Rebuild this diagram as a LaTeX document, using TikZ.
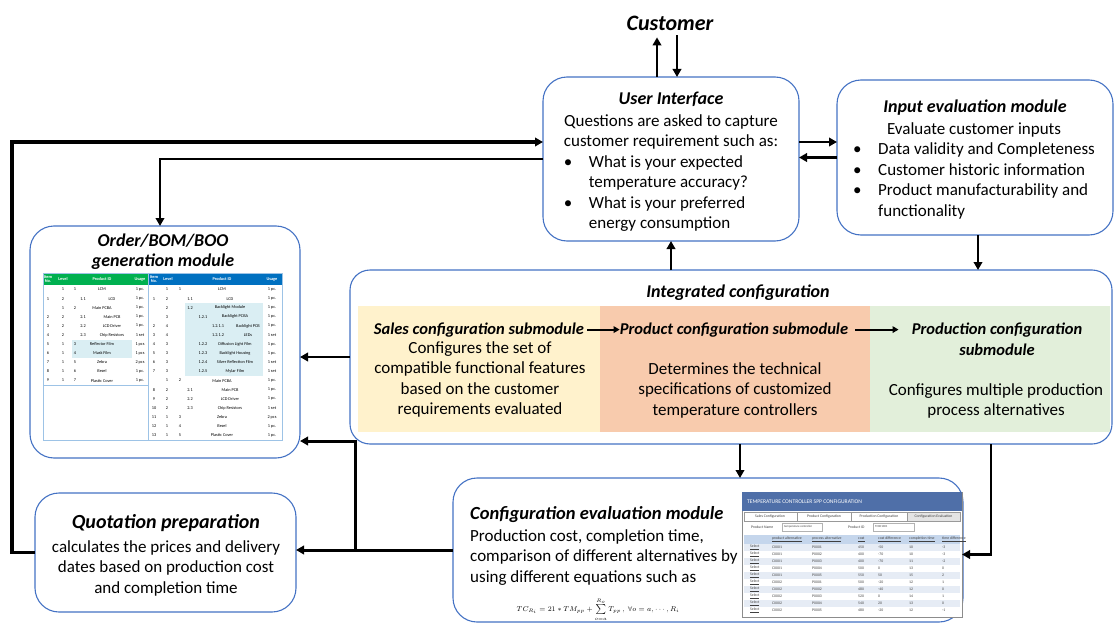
\documentclass[tikz,border=0pt]{standalone}
\usepackage{fontspec}
\setmainfont{Carlito}
\usetikzlibrary{arrows.meta}
\definecolor{boxblue}{HTML}{4472C4}
\definecolor{salesbg}{HTML}{FFF2CC}
\definecolor{prodbg}{HTML}{F8CBAD}
\definecolor{prodnbg}{HTML}{E2EFDA}
\definecolor{bomgreen}{HTML}{00B050}
\definecolor{bomblue}{HTML}{0070C0}
\definecolor{bomhl}{HTML}{DAEEF3}
\definecolor{tblline}{HTML}{9DC3E6}
\definecolor{sshead}{HTML}{4F6FA8}
\definecolor{sshdr}{HTML}{C5D6EC}
\definecolor{ssrow}{HTML}{E6ECF5}
\definecolor{sstab}{HTML}{E4E4E4}
\begin{document}
\begin{tikzpicture}[x=1pt,y=-1pt,
  box/.style={draw=boxblue,line width=1.1pt,fill=white,rounded corners=24pt,inner sep=0pt,outer sep=0pt},
  panel/.style={inner sep=0pt,outer sep=0pt,minimum height=126pt},
  ttl/.style={inner sep=0pt,anchor=base,font=\fontsize{18}{21}\selectfont\bfseries\itshape},
  txt/.style={inner sep=0pt,font=\fontsize{17}{20.5}\selectfont},
  arr/.style={line width=2.6pt,-{Triangle[length=8pt,width=8.5pt]}},
  sarr/.style={line width=2pt,-{Triangle[length=6pt,width=6.5pt]}},
  tb/.style={inner sep=0pt,font=\fontsize{4.3}{4.8}\selectfont},
  tbh/.style={inner sep=0pt,text=white,align=center,font=\fontsize{4.3}{4.4}\selectfont\bfseries},
  sst/.style={inner sep=0pt,font=\fontsize{3.8}{4.2}\selectfont,text=black!75},
]
\useasboundingbox (0,0) rectangle (1114,626);

% ---------------- boxes
\node[box,minimum width=256pt,minimum height=164pt] (ui) at (671,159) {};
\node[box,minimum width=276pt,minimum height=155pt] (inp) at (975,157.5) {};
\node[box,minimum width=270pt,minimum height=232pt] (bom) at (165,342) {};
\node[box,minimum width=762pt,minimum height=174pt,rounded corners=20pt] (integ) at (731,357) {};
\node[box,minimum width=261pt,minimum height=119pt] (quot) at (165.5,552.5) {};
\node[box,minimum width=510pt,minimum height=144pt] (ceval) at (708,550) {};

% ---------------- customer
\node[ttl,font=\fontsize{22}{26}\selectfont\bfseries\itshape] (cust) at (670,31) {Customer};

% ---------------- user interface
\node[ttl] (ui-t) at (671,104) {User Interface};
\node[txt,anchor=north] (ui-b) at (671,111.5) {\begin{tabular}{@{}p{25pt}@{}l@{}}
\multicolumn{2}{@{}c@{}}{Questions are asked to capture}\\
\multicolumn{2}{@{}c@{}}{customer requirement such as:}\\
\textbullet & What is your expected\\
 & temperature accuracy?\\
\textbullet & What is your preferred\\
 & energy consumption
\end{tabular}};

% ---------------- input evaluation
\node[ttl] (inp-t) at (975,113) {Input evaluation module};
\node[txt,anchor=north west] (inp-b) at (853,119.5) {\begin{tabular}{@{}p{25pt}@{}l@{}}
\multicolumn{2}{@{}c@{}}{Evaluate customer inputs}\\
\textbullet & Data validity and Completeness\\
\textbullet & Customer historic information\\
\textbullet & Product manufacturability and\\
 & functionality
\end{tabular}};

% ---------------- integrated configuration
\node[ttl] (integ-t) at (738,297) {Integrated configuration};
\node[panel,fill=salesbg,minimum width=242pt] (sales) at (479,369) {};
\node[panel,fill=prodbg,minimum width=270pt] (prodc) at (735,369) {};
\node[panel,fill=prodnbg,minimum width=240pt] (prodn) at (990,369) {};
\node[ttl,font=\fontsize{16.5}{20}\selectfont\bfseries\itshape] (sales-t) at (479,334) {Sales configuration submodule};
\node[ttl,font=\fontsize{16.5}{20}\selectfont\bfseries\itshape] (prodc-t) at (734,334) {Product configuration submodule};
\node[ttl,font=\fontsize{16.5}{20}\selectfont\bfseries\itshape] (prodn-t) at (997,334) {Production configuration};
\node[ttl,font=\fontsize{16.5}{20}\selectfont\bfseries\itshape] (prodn-t2) at (997,355) {submodule};
\node[txt,anchor=north] (sales-b) at (480,338.5) {\begin{tabular}{@{}c@{}}
Configures the set of\\ compatible functional features\\ based on the customer\\ requirements evaluated\end{tabular}};
\node[txt,anchor=north] (prodc-b) at (735,359.5) {\begin{tabular}{@{}c@{}}
Determines the technical\\ specifications of customized\\ temperature controllers\end{tabular}};
\node[txt,anchor=north] (prodn-b) at (996,380.5) {\begin{tabular}{@{}c@{}}
Configures multiple production\\ process alternatives\end{tabular}};
\draw[sarr,shorten <=3pt] (sales-t.east) -- (prodc-t.west);
\draw[sarr,shorten <=7pt,shorten >=13pt] (prodc-t.east) -- (prodn-t.west);

% ---------------- order / BOM / BOO
\node[ttl] (bom-t) at (163,246) {Order/BOM/BOO};
\node[ttl] (bom-t2) at (163,266) {generation module};
\fill[bomgreen] (43,273) rectangle (148,285);
\fill[bomblue] (148,273) rectangle (282,285);
\fill[bomhl] (72,339.6) rectangle (132,357.8);
\fill[bomhl] (185,303.2) rectangle (263,376);
\draw[tblline,line width=0.6pt] (43,273) rectangle (282,440);
\draw[tblline,line width=0.6pt] (148,273) -- (148,440);
\draw[tblline,line width=0.5pt] (43,385) -- (148,385);
\node[tbh] (hl1) at (48,279) {Item\\No.};
\node[tbh] (hl2) at (63,279) {Level};
\node[tbh] (hl3) at (102,279) {Product ID};
\node[tbh] (hl4) at (140,279) {Usage};
\node[tbh] (hr1) at (154,279) {Item\\No.};
\node[tbh] (hr2) at (168,279) {Level};
\node[tbh] (hr3) at (222,279) {Product ID};
\node[tbh] (hr4) at (272,279) {Usage};
\foreach \ia/\lv/\id/\nm/\us [count=\rr] in {
 {}/1/1/LCM/1 pc.,
 1/2/1.1/LCD/1 pc.,
 {}/1/2/Main PCBA/1 pc.,
 2/2/2.1/Main PCB/1 pc.,
 3/2/2.2/LCD Driver/1 pc.,
 4/2/2.3/Chip Resistors/1 set,
 5/1/3/Reflector Film/1 pcs,
 6/1/4/Mask Film/1 pcs,
 7/1/5/Zebra/2 pcs,
 8/1/6/Bezel/1 pc.,
 9/1/7/Plastic Cover/1 pc.}{
 \pgfmathsetmacro\yy{285+(\rr-0.5)*9.1}
 \pgfmathsetmacro\xid{{75,83}[\lv-1]}
 \pgfmathsetmacro\xnm{{102,112}[\lv-1]}
 \node[tb] (La\rr) at (48,\yy) {\ia};
 \node[tb] (Lb\rr) at (63,\yy) {\lv};
 \node[tb] (Lc\rr) at (\xid,\yy) {\id};
 \node[tb] (Ld\rr) at (\xnm,\yy) {\nm};
 \node[tb] (Le\rr) at (140,\yy) {\us};
}
\foreach \ia/\lv/\id/\nm/\us [count=\rr] in {
 {}/1/1/LCM/1 pc.,
 1/2/1.1/LCD/1 pc.,
 {}/2/1.2/Backlight Module/1 pc.,
 {}/3/1.2.1/Backlight PCBA/1 pc.,
 2/4/1.2.1.1/Backlight PCB/1 pc.,
 3/4/1.2.1.2/LEDs/1 set,
 4/3/1.2.2/Diffusion Light Film/1 pc.,
 5/3/1.2.3/Backlight Housing/1 pc.,
 6/3/1.2.4/Silver Reflection Film/1 set,
 7/3/1.2.5/Mylar Film/1 set,
 {}/1/2/Main PCBA/1 pc.,
 8/2/2.1/Main PCB/1 pc.,
 9/2/2.2/LCD Driver/1 pc.,
 10/2/2.3/Chip Resistors/1 set,
 11/1/3/Zebra/2 pcs,
 12/1/4/Bezel/1 pc.,
 13/1/5/Plastic Cover/1 pc.}{
 \pgfmathsetmacro\yy{285+(\rr-0.5)*9.1}
 \pgfmathsetmacro\xid{{180,190,203,218}[\lv-1]}
 \pgfmathsetmacro\xnm{{222,230,235,248}[\lv-1]}
 \node[tb] (Ra\rr) at (154,\yy) {\ia};
 \node[tb] (Rb\rr) at (167,\yy) {\lv};
 \node[tb] (Rc\rr) at (\xid,\yy) {\id};
 \node[tb] (Rd\rr) at (\xnm,\yy) {\nm};
 \node[tb] (Re\rr) at (272,\yy) {\us};
}

% ---------------- quotation
\node[ttl,font=\fontsize{20}{24}\selectfont\bfseries\itshape] (quot-t) at (166,528) {Quotation preparation};
\node[txt,anchor=north] (quot-b) at (166,537.5) {\begin{tabular}{@{}c@{}}
calculates the prices and delivery\\ dates based on production cost\\ and completion time\end{tabular}};

% ---------------- configuration evaluation
\node[ttl,anchor=base west,font=\fontsize{18.5}{22}\selectfont\bfseries\itshape] (ceval-t) at (470,519) {Configuration evaluation module};
\node[txt,anchor=north west] (ceval-b) at (470,526.5) {\begin{tabular}{@{}l@{}}
Production cost, completion time,\\ comparison of different alternatives by\\ using different equations such as\end{tabular}};
\node[inner sep=0pt,font=\fontsize{7.5}{8.5}\selectfont] (eq) at (598,609.5)
 {$TC_{R_i} = 21 * TM_{pp} + \sum\limits_{o=a}^{R_o} T_{pp}\,,\ \forall o = a,\cdots, R_i$};

% ---------------- screenshot
\node[draw=black!45,line width=0.8pt,fill=white,minimum width=220pt,minimum height=125pt,inner sep=0pt,outer sep=0pt] (shot) at (852,554.5) {};
\fill[sshead] (742,492) rectangle (962,511);
\node[inner sep=0pt,anchor=west,text=white,font=\fontsize{5.6}{6}\selectfont] (shot-h) at (747,501.5) {TEMPERATURE CONTROLLER SPP CONFIGURATION};
\fill[sstab] (907,512) rectangle (960,521);
\draw[black!40,line width=0.4pt] (744,512) rectangle (797,521) (797,512) rectangle (851,521) (851,512) rectangle (907,521) (907,512) rectangle (960,521);
\node[sst] (tab1) at (770,516.5) {Sales Configuration};
\node[sst] (tab2) at (824,516.5) {Product Configuration};
\node[sst] (tab3) at (879,516.5) {Production Configuration};
\node[sst] (tab4) at (933.5,516.5) {Configuration Evaluation};
\node[sst,anchor=west] (pn) at (751,527) {Product Name};
\draw[black!30,line width=0.4pt] (782,523) rectangle (822,531);
\node[sst,anchor=west,font=\fontsize{3}{3.5}\selectfont] (pnv) at (784,527) {temperature controller};
\node[sst,anchor=west] (pid) at (848,527) {Product ID};
\draw[black!30,line width=0.4pt] (873,523) rectangle (914,531);
\node[sst,anchor=west,font=\fontsize{3}{3.5}\selectfont] (pidv) at (875,527) {TC001001};
\fill[sshdr] (744,535) rectangle (960,544);
\foreach \rr in {1,3,5,7,9} \fill[ssrow] (744,{544+(\rr-1)*7}) rectangle (960,{551+(\rr-1)*7});
\node[sst,anchor=west] (c1) at (772,539.5) {\underline{product alternative}};
\node[sst,anchor=west] (c2) at (812,539.5) {\underline{process alternative}};
\node[sst,anchor=west] (c3) at (858,539.5) {\underline{cost}};
\node[sst,anchor=west] (c4) at (878,539.5) {\underline{cost difference}};
\node[sst,anchor=west] (c5) at (909,539.5) {\underline{completion time}};
\node[sst,anchor=west] (c6) at (942,539.5) {\underline{time difference}};
\foreach \pa/\pb/\co/\cd/\ti/\td [count=\rr] in {
 C0001/P0001/450/-50/10/-3,
 C0001/P0002/400/-70/10/-3,
 C0001/P0003/400/-70/11/-2,
 C0001/P0004/500/0/13/0,
 C0001/P0005/550/50/15/2,
 C0002/P0001/500/-20/12/1,
 C0002/P0002/480/-40/12/0,
 C0002/P0003/520/0/14/1,
 C0002/P0004/540/20/13/0,
 C0002/P0005/480/-20/12/-1}{
 \pgfmathsetmacro\yy{547.5+(\rr-1)*7}
 \node[sst,anchor=west] (s\rr) at (750,\yy) {\underline{Select}};
 \node[sst,anchor=west] (sa\rr) at (772,\yy) {\pa};
 \node[sst,anchor=west] (sb\rr) at (812,\yy) {\pb};
 \node[sst,anchor=west] (sc\rr) at (858,\yy) {\co};
 \node[sst,anchor=west] (sd\rr) at (878,\yy) {\cd};
 \node[sst,anchor=west] (se\rr) at (909,\yy) {\ti};
 \node[sst,anchor=west] (sf\rr) at (942,\yy) {\td};
}

% ---------------- connectors
\draw[arr] ([xshift=-14pt]ui.north) -- ([xshift=-13pt,yshift=-6pt]cust.south);
\draw[arr] ([xshift=7pt,yshift=-4pt]cust.south) -- ([xshift=6pt]ui.north);
\draw[arr] ([yshift=17pt]ui.east) -- ([yshift=17pt]ui.east -| inp.west);
\draw[arr] (inp.west) -- (inp.west -| ui.east);
\draw[arr] ([xshift=3pt]inp.south) -- ([xshift=3pt]inp.south |- integ.north);
\draw[arr] (ui.south |- integ.north) -- (ui.south);
\draw[arr] (ui.west) -| ([xshift=-5pt]bom.north);
\draw[arr,line width=3.4pt] (quot.west) -- ++(-23,0) |- ([yshift=17pt]ui.west);
\draw[arr] (integ.west) -- (integ.west -| bom.east);
\draw[arr] ([xshift=9pt]integ.south) -- ([xshift=9pt]integ.south |- ceval.north);
\draw[arr,line width=2.2pt] ([xshift=260pt]integ.south) |- (shot.east);
\draw[arr,line width=3pt] (ceval.west) -- (ceval.west -| quot.east);
\draw[arr,line width=3pt] ([xshift=-98pt]ceval.west) |- ([yshift=-99pt]bom.east);
\end{tikzpicture}
\end{document}
